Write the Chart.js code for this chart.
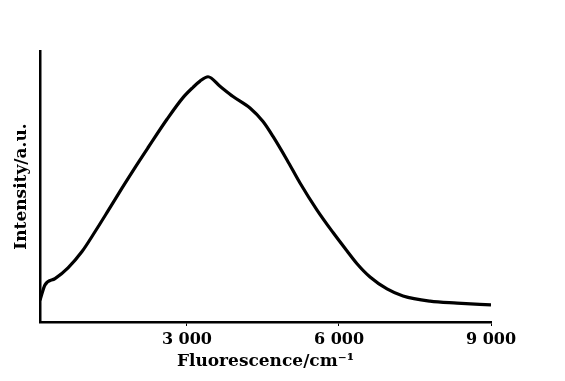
<!DOCTYPE html>
<html>
<head>
<meta charset="utf-8">
<script src="https://cdn.jsdelivr.net/npm/chart.js@4/dist/chart.umd.min.js"></script>
<style>
  html, body { margin: 0; padding: 0; background: #fff; }
  #wrap { width: 565px; height: 381px; position: relative; }
</style>
</head>
<body>
<div id="wrap"><canvas id="c" width="565" height="381"></canvas></div>
<script>
// Data
const wavenumber = [100, 199, 396, 653, 929, 1185, 1442, 1718, 1975, 2231, 2606, 2922, 3120, 3258, 3416, 3652, 3909, 4244, 4501, 4698, 4975, 5231, 5567, 5883, 6159, 6356, 6613, 6948, 7264, 7797, 8330, 9000];
const intensity  = [0.080, 0.137, 0.160, 0.200, 0.260, 0.333, 0.410, 0.494, 0.570, 0.643, 0.748, 0.828, 0.866, 0.889, 0.905, 0.870, 0.832, 0.790, 0.740, 0.685, 0.598, 0.513, 0.413, 0.330, 0.262, 0.215, 0.166, 0.122, 0.096, 0.077, 0.070, 0.063];
const xTickValues = [3000, 6000, 9000];
const xTickLabels = ['3 000', '6 000', '9 000'];
const xTitle = 'Fluorescence/cm\u207B\u00B9';
const yTitle = 'Intensity/a.u.';

const points = wavenumber.map((w, i) => ({ x: w, y: intensity[i] }));
const serif = '"DejaVu Serif", "Liberation Serif", serif';

new Chart(document.getElementById('c'), {
  type: 'line',
  data: {
    datasets: [{
      data: points,
      borderColor: '#000',
      borderWidth: 3.2,
      pointRadius: 0,
      fill: false,
      cubicInterpolationMode: 'monotone'
    }]
  },
  options: {
    responsive: false,
    animation: false,
    layout: { padding: { left: 0, right: 74, top: 51, bottom: 0 } },
    plugins: { legend: { display: false }, tooltip: { enabled: false } },
    scales: {
      x: {
        type: 'linear',
        min: 100,
        max: 9000,
        afterBuildTicks: s => { s.ticks = xTickValues.map(v => ({ value: v })); },
        afterFit: s => { s.height = 59; },
        grid: { drawOnChartArea: false, drawTicks: true, tickLength: 4, color: '#000', tickWidth: 1 },
        border: { display: true, color: '#000', width: 2.5 },
        ticks: {
          color: '#000',
          padding: 4,
          maxRotation: 0,
          autoSkip: false,
          font: { family: serif, size: 16, weight: 'bold' },
          callback: (v) => { const i = xTickValues.indexOf(v); return i >= 0 ? xTickLabels[i] : ''; }
        },
        title: {
          display: true,
          text: xTitle,
          color: '#000',
          font: { family: serif, size: 17, weight: 'bold' },
          padding: { top: 0, bottom: 9 }
        }
      },
      y: {
        type: 'linear',
        min: 0,
        max: 1,
        afterFit: s => { s.width = 40; },
        grid: { display: false },
        border: { display: true, color: '#000', width: 2.5 },
        ticks: { display: false },
        title: {
          display: true,
          text: yTitle,
          color: '#000',
          font: { family: serif, size: 17, weight: 'bold' },
          padding: { top: 11, bottom: 0 }
        }
      }
    }
  }
});
</script>
</body>
</html>
